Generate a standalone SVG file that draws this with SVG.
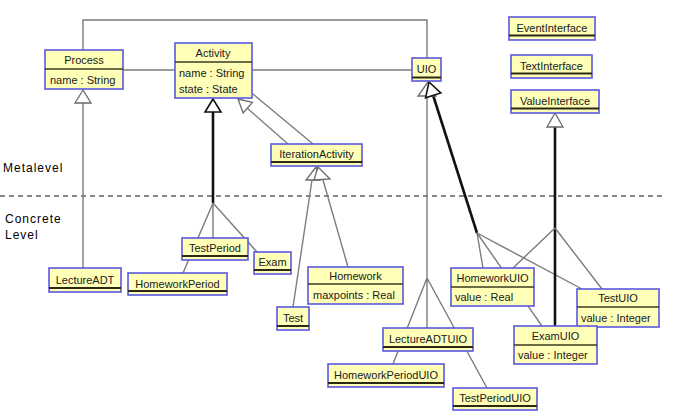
<svg xmlns="http://www.w3.org/2000/svg" width="675" height="412" viewBox="0 0 675 412">
<style>
.box{fill:#ffffb8;stroke:#5858e0;stroke-width:1.6}
.div{stroke:#3a3a20;stroke-width:1.3}
.div2{stroke:#2a2a10;stroke-width:2}
text{font-family:"Liberation Sans",Arial,sans-serif;font-size:11px;fill:#202020}
.c{text-anchor:middle}
.lvl{font-size:12px;letter-spacing:1px;fill:#000}
.g{fill:none;stroke:#7c7c7c;stroke-width:1.4}
.k{fill:none;stroke:#111;stroke-width:2.6}
.tri{fill:#fff;stroke:#6a6a6a;stroke-width:1.3}
.trik{fill:#fff;stroke:#111;stroke-width:1.6}
</style>
<rect width="675" height="412" fill="#fff"/>
<line x1="0" y1="196" x2="666" y2="196" stroke="#111" stroke-width="1" stroke-dasharray="5,4"/>
<text class="lvl" x="3" y="172">Metalevel</text>
<text class="lvl" x="5" y="223">Concrete</text>
<text class="lvl" x="5" y="239">Level</text>
<g id="connectors">
<path class="g" d="M83,50 V20 H427 V58"/>
<path class="g" d="M123,70 H175"/>
<path class="g" d="M252,70 H412"/>
<path class="g" d="M83,102 V268"/>
<polygon class="tri" points="83,90 75,103 91,103"/>
<path class="k" d="M213,111 V203"/>
<polygon class="trik" points="213,99 205,112 221,112"/>
<path class="g" d="M213,203 L183,273 M213,203 V238 M213,203 L257,252"/>
<path class="g" d="M288,144 L247,108"/>
<polygon class="tri" points="238,99 252.4,102.4 243.1,112.9"/>
<path class="g" d="M313,144 L253,94"/>
<path class="g" d="M312,180 L293,307 M323,180 L348,267"/>
<polygon class="tri" points="316,167 306,180 320,180"/>
<polygon class="tri" points="318,167 314,180 330,179"/>
<path class="g" d="M427,96 V278 M427,278 L393,364 M427,278 V328 M427,278 L487,388"/>
<path class="k" d="M433,95 L477,233"/>
<polygon class="tri" points="428,82 418,96 436,96"/>
<polygon class="trik" points="429,82 440.8,92.9 425.6,97.7"/>
<path class="g" d="M477,233 L483,268 M477,233 L542,326 M477,233 L582,289"/>
<path class="k" d="M555,126 V326"/>
<polygon class="tri" points="555,113 547,127 563,127"/>
<path class="g" d="M555,228 L513,268 M555,228 L602,289"/>
</g>
<g id="Process"><rect class="box" x="45" y="50" width="78" height="39"/><line class="div" x1="45" y1="69" x2="123" y2="69"/><text class="c" x="84" y="64">Process</text><text x="50" y="84">name : String</text></g>
<g id="Activity"><rect class="box" x="175" y="43" width="77" height="55"/><line class="div" x1="175" y1="62" x2="252" y2="62"/><text class="c" x="213" y="57">Activity</text><text x="179" y="77">name : String</text><text x="179" y="93">state : State</text></g>
<g id="UIO"><rect class="box" x="412" y="58" width="29" height="23"/><line class="div2" x1="412" y1="77.5" x2="441" y2="77.5"/><text class="c" x="426.5" y="73">UIO</text></g>
<g id="IterationActivity"><rect class="box" x="271" y="144" width="91" height="22"/><line class="div2" x1="271" y1="162" x2="362" y2="162"/><text class="c" x="316.5" y="158">IterationActivity</text></g>
<g id="EventInterface"><rect class="box" x="509" y="17" width="86" height="23"/><line class="div2" x1="509" y1="35.5" x2="595" y2="35.5"/><text class="c" x="552" y="32">EventInterface</text></g>
<g id="TextInterface"><rect class="box" x="511" y="55" width="81" height="23"/><line class="div2" x1="511" y1="73.5" x2="592" y2="73.5"/><text class="c" x="551.5" y="70">TextInterface</text></g>
<g id="ValueInterface"><rect class="box" x="511" y="90" width="88" height="23"/><line class="div2" x1="511" y1="108.5" x2="599" y2="108.5"/><text class="c" x="555" y="105">ValueInterface</text></g>
<g id="LectureADT"><rect class="box" x="49" y="268" width="72" height="24"/><line class="div2" x1="49" y1="288" x2="121" y2="288"/><text class="c" x="85" y="284">LectureADT</text></g>
<g id="TestPeriod"><rect class="box" x="182" y="238" width="66" height="22"/><line class="div2" x1="182" y1="256" x2="248" y2="256"/><text class="c" x="215" y="252">TestPeriod</text></g>
<g id="HomeworkPeriod"><rect class="box" x="128" y="273" width="99" height="22"/><line class="div2" x1="128" y1="291" x2="227" y2="291"/><text class="c" x="177.5" y="288">HomeworkPeriod</text></g>
<g id="Exam"><rect class="box" x="254" y="252" width="37" height="22"/><line class="div2" x1="254" y1="270" x2="291" y2="270"/><text class="c" x="272.5" y="266">Exam</text></g>
<g id="Test"><rect class="box" x="277" y="307" width="32" height="23"/><line class="div2" x1="277" y1="326" x2="309" y2="326"/><text class="c" x="293" y="322">Test</text></g>
<g id="Homework"><rect class="box" x="308" y="267" width="95" height="37"/><line class="div" x1="308" y1="284" x2="403" y2="284"/><text class="c" x="355.5" y="280">Homework</text><text x="313" y="299">maxpoints : Real</text></g>
<g id="HomeworkUIO"><rect class="box" x="451" y="268" width="83" height="38"/><line class="div" x1="451" y1="287" x2="534" y2="287"/><text class="c" x="492.5" y="282">HomeworkUIO</text><text x="455" y="301">value : Real</text></g>
<g id="TestUIO"><rect class="box" x="577" y="289" width="82" height="38"/><line class="div" x1="577" y1="307" x2="659" y2="307"/><text class="c" x="618" y="302">TestUIO</text><text x="581" y="322">value : Integer</text></g>
<g id="ExamUIO"><rect class="box" x="514" y="326" width="83" height="38"/><line class="div" x1="514" y1="345" x2="597" y2="345"/><text class="c" x="555.5" y="340">ExamUIO</text><text x="518" y="359">value : Integer</text></g>
<g id="LectureADTUIO"><rect class="box" x="383" y="328" width="90" height="23"/><line class="div2" x1="383" y1="347" x2="473" y2="347"/><text class="c" x="428" y="343">LectureADTUIO</text></g>
<g id="HomeworkPeriodUIO"><rect class="box" x="328" y="364" width="116" height="23"/><line class="div2" x1="328" y1="383" x2="444" y2="383"/><text class="c" x="386" y="379">HomeworkPeriodUIO</text></g>
<g id="TestPeriodUIO"><rect class="box" x="453" y="388" width="84" height="22"/><line class="div2" x1="453" y1="406" x2="537" y2="406"/><text class="c" x="495" y="402">TestPeriodUIO</text></g>
</svg>
